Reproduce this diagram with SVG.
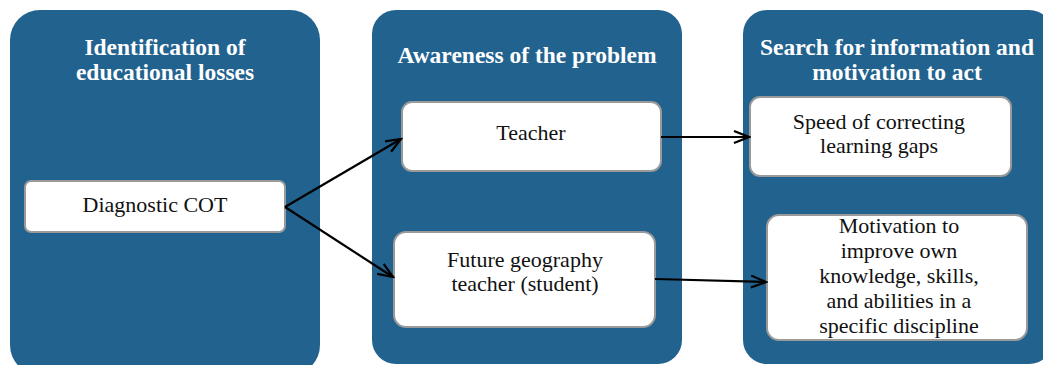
<svg xmlns="http://www.w3.org/2000/svg" width="1043" height="365" viewBox="0 0 1043 365">
<style>
.panel{fill:#22628f}
.node{fill:#fff;stroke:#9a9a9a;stroke-width:2}
.title{font-family:"Liberation Serif",serif;font-weight:bold;font-size:23.5px;fill:#fff;text-anchor:middle}
.txt{font-family:"Liberation Serif",serif;font-size:22px;fill:#111;text-anchor:middle}
.conn{stroke:#000;stroke-width:2.2;fill:none;marker-end:url(#arr)}
</style>
<defs>
<marker id="arr" markerUnits="userSpaceOnUse" markerWidth="18" markerHeight="14" refX="16" refY="7" orient="auto">
<path d="M1,1 L16,7 L1,13" fill="none" stroke="#000" stroke-width="2.2"/>
</marker>
</defs>
<g id="panel1">
<rect class="panel" x="10" y="10" width="310" height="365" rx="30" ry="30"/>
<text class="title" x="165" y="55">Identification of</text>
<text class="title" x="165" y="80">educational losses</text>
</g>
<g id="panel2">
<rect class="panel" x="372" y="10" width="310" height="354" rx="24" ry="24"/>
<text class="title" x="527" y="63">Awareness of the problem</text>
</g>
<g id="panel3">
<rect class="panel" x="743" y="10" width="310" height="354" rx="24" ry="24"/>
<text class="title" x="897" y="55">Search for information and</text>
<text class="title" x="897" y="80">motivation to act</text>
</g>
<g id="node-diagnostic">
<rect class="node" x="25" y="181" width="260" height="51" rx="6"/>
<text class="txt" x="155" y="212">Diagnostic COT</text>
</g>
<g id="node-teacher">
<rect class="node" x="402" y="102" width="259" height="69" rx="10"/>
<text class="txt" x="531" y="140">Teacher</text>
</g>
<g id="node-future">
<rect class="node" x="394" y="232" width="261" height="95" rx="12"/>
<text class="txt" x="525" y="267">Future geography</text>
<text class="txt" x="525" y="291">teacher (student)</text>
</g>
<g id="node-speed">
<rect class="node" x="750" y="97" width="261" height="79" rx="10"/>
<text class="txt" x="879" y="129">Speed of correcting</text>
<text class="txt" x="879" y="153">learning gaps</text>
</g>
<g id="node-motivation">
<rect class="node" x="767" y="215" width="260" height="125" rx="12"/>
<text class="txt" x="899" y="233">Motivation to</text>
<text class="txt" x="899" y="258">improve own</text>
<text class="txt" x="899" y="283">knowledge, skills,</text>
<text class="txt" x="899" y="308">and abilities in a</text>
<text class="txt" x="899" y="333">specific discipline</text>
</g>
<g id="connectors">
<line class="conn" x1="285" y1="207" x2="401" y2="139"/>
<line class="conn" x1="285" y1="207" x2="393" y2="277"/>
<line class="conn" x1="661" y1="137" x2="749" y2="137"/>
<line class="conn" x1="655" y1="279" x2="766" y2="282"/>
</g>
</svg>
